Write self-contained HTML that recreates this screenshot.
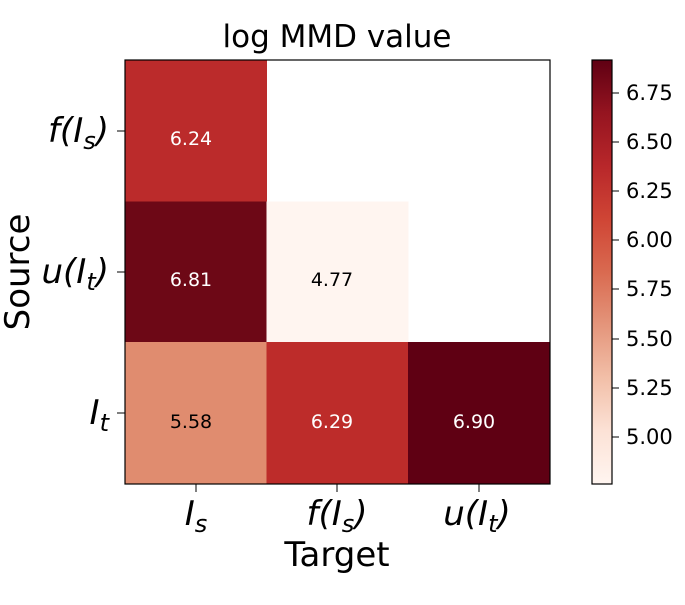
<!DOCTYPE html>
<html><head><meta charset="utf-8"><style>
body{margin:0;background:#fff;}
svg text{font-family:"DejaVu Sans","Liberation Sans",sans-serif;}
</style></head><body>
<svg width="685" height="600" viewBox="0 0 685 600" xmlns="http://www.w3.org/2000/svg">
<defs>
<linearGradient id="reds" x1="0" y1="1" x2="0" y2="0">
<stop offset="0" stop-color="#fff5f0"/>
<stop offset="0.125" stop-color="#fce2d6"/>
<stop offset="0.25" stop-color="#f2bfa8"/>
<stop offset="0.375" stop-color="#e4957b"/>
<stop offset="0.5" stop-color="#d96a50"/>
<stop offset="0.625" stop-color="#cf4535"/>
<stop offset="0.75" stop-color="#b8272a"/>
<stop offset="0.875" stop-color="#951420"/>
<stop offset="1" stop-color="#5f0013"/>
</linearGradient>
</defs>
<text x="337" y="47" font-size="31" text-anchor="middle">log MMD value</text>
<rect x="125" y="60" width="142" height="142" fill="#bb2b2b"/>
<rect x="125" y="201.5" width="142" height="141" fill="#6d0816"/>
<rect x="266.5" y="201.5" width="142" height="141" fill="#fff5f0"/>
<rect x="125" y="342" width="142" height="142" fill="#e08c6f"/>
<rect x="266.5" y="342" width="142" height="142" fill="#bd2c2a"/>
<rect x="408" y="342" width="142" height="142" fill="#5f0013"/>
<rect x="125" y="60" width="425" height="424" fill="none" stroke="#000" stroke-width="1.2"/>
<g font-size="19" text-anchor="middle">
<text x="191" y="145" fill="#fff">6.24</text>
<text x="191" y="286" fill="#fff">6.81</text>
<text x="332" y="286" fill="#000">4.77</text>
<text x="191" y="428" fill="#000">5.58</text>
<text x="332" y="428" fill="#fff">6.29</text>
<text x="474" y="428" fill="#fff">6.90</text>
</g>
<g stroke="#000" stroke-width="1">
<line x1="117" y1="131" x2="125" y2="131"/>
<line x1="117" y1="272" x2="125" y2="272"/>
<line x1="117" y1="413" x2="125" y2="413"/>
<line x1="196" y1="484" x2="196" y2="492"/>
<line x1="337" y1="484" x2="337" y2="492"/>
<line x1="479" y1="484" x2="479" y2="492"/>
</g>
<g font-size="34" font-style="italic" text-anchor="end">
<text x="109" y="142">f(I<tspan font-size="24" dy="7">s</tspan><tspan dy="-7">)</tspan></text>
<text x="109" y="283">u(I<tspan font-size="24" dy="7">t</tspan><tspan dy="-7">)</tspan></text>
<text x="109" y="424">I<tspan font-size="24" dy="7">t</tspan></text>
</g>
<g font-size="34" font-style="italic" text-anchor="middle">
<text x="196" y="525">I<tspan font-size="24" dy="7">s</tspan></text>
<text x="337" y="525">f(I<tspan font-size="24" dy="7">s</tspan><tspan dy="-7">)</tspan></text>
<text x="477" y="525">u(I<tspan font-size="24" dy="7">t</tspan><tspan dy="-7">)</tspan></text>
</g>
<text x="337" y="566" font-size="34" text-anchor="middle">Target</text>
<text transform="translate(29,272) rotate(-90)" font-size="34" text-anchor="middle">Source</text>
<rect x="592" y="60" width="20" height="424" fill="url(#reds)" stroke="#000" stroke-width="1.2"/>
<g stroke="#000" stroke-width="1">
<line x1="612" y1="93" x2="619" y2="93"/>
<line x1="612" y1="142" x2="619" y2="142"/>
<line x1="612" y1="191" x2="619" y2="191"/>
<line x1="612" y1="240" x2="619" y2="240"/>
<line x1="612" y1="289" x2="619" y2="289"/>
<line x1="612" y1="339" x2="619" y2="339"/>
<line x1="612" y1="388" x2="619" y2="388"/>
<line x1="612" y1="437" x2="619" y2="437"/>
</g>
<g font-size="21">
<text x="626" y="100">6.75</text>
<text x="626" y="149">6.50</text>
<text x="626" y="198">6.25</text>
<text x="626" y="247">6.00</text>
<text x="626" y="296">5.75</text>
<text x="626" y="346">5.50</text>
<text x="626" y="395">5.25</text>
<text x="626" y="444">5.00</text>
</g>
</svg>
</body></html>
